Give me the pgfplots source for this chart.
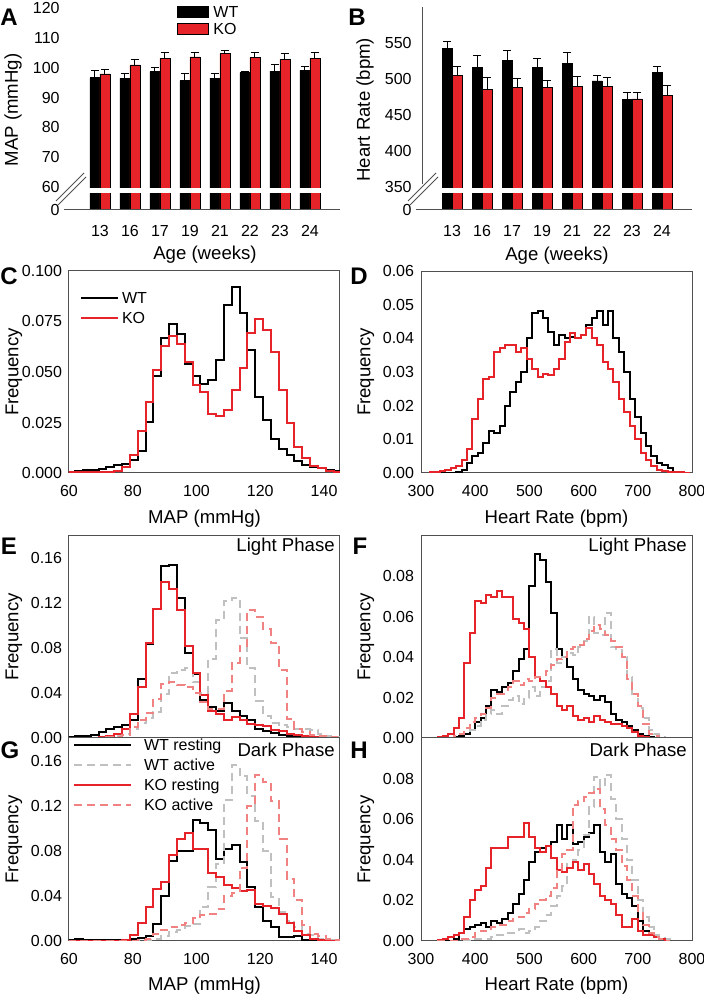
\documentclass[border=0pt]{standalone}
\usepackage{fontspec}
\setmainfont{Liberation Sans}
\usepackage{pgfplots}
\usepackage{pgfplotstable}
\pgfplotsset{compat=1.18}
\definecolor{kored}{RGB}{230,35,40}
\definecolor{kopink}{RGB}{240,130,130}
\definecolor{wtgray}{RGB}{192,192,192}
\definecolor{frame}{RGB}{80,80,80}
\newcommand{\tickfont}{\fontsize{8}{9}\selectfont}
\newcommand{\labfont}{\fontsize{9.3}{11}\selectfont}
\newcommand{\letfont}{\fontsize{12}{14}\selectfont\bfseries}

\pgfplotstableread{
c WT WTe KO KOe
0 96.7 2.3 97.9 1.5
1 96.5 1.5 100.9 1.7
2 98.7 1.5 103.1 1.9
3 95.6 2.3 103.6 1.4
4 96.5 1.7 104.7 1.1
5 98.3 0.5 103.5 1.5
6 98.8 2.3 102.8 1.8
7 99.1 1.2 103.1 2.1
}\tabA
\pgfplotstableread{
c WT WTe KO KOe
0 542.6 10.2 504.7 13.3
1 515.6 16.7 485.8 15.8
2 525.3 14.5 487.7 13.0
3 515.6 13.4 487.7 10.7
4 521.2 16.2 489.5 14.0
5 497.4 7.5 490.0 12.0
6 471.4 9.6 472.3 9.2
7 508.6 8.8 477.4 14.0
}\tabB
\pgfplotstableread{
x WT KO
59.43 0.0005 0.0003
61.89 0.001 0.0003
64.34 0.0015 0.0003
66.80 0.0015 0.0003
69.26 0.002 0.0005
71.72 0.003 0.0005
74.17 0.004 0.001
76.63 0.0045 0.003
79.09 0.0066 0.009
81.54 0.0107 0.021
84.00 0.025 0.035
86.46 0.048 0.051
88.91 0.067 0.063
91.37 0.074 0.068
93.83 0.069 0.064
96.29 0.054 0.055
98.74 0.048 0.0435
101.20 0.044 0.040
103.66 0.046 0.029
106.11 0.056 0.028
108.57 0.083 0.031
111.03 0.092 0.041
113.48 0.079 0.052
115.94 0.061 0.0695
118.40 0.0375 0.076
120.86 0.026 0.071
123.31 0.017 0.060
125.77 0.012 0.041
128.23 0.009 0.0246
130.68 0.006 0.013
133.14 0.004 0.0074
135.60 0.003 0.0036
138.05 0.0023 0.0025
140.51 0.0016 0.001
142.97 0.001 0.0005
145.43 0 0
}\tabC
\pgfplotstableread{
x WT KO
315 0 0.0002
325 0 0.0003
335 0 0.0005
345 0 0.001
355 0 0.0015
365 0.0003 0.002
375 0.001 0.004
385 0.003 0.007
395 0.005 0.016
405 0.006 0.022
415 0.009 0.028
425 0.0125 0.0285
435 0.012 0.036
445 0.014 0.037
455 0.020 0.038
465 0.024 0.038
475 0.027 0.036
485 0.030 0.037
495 0.040 0.034
505 0.0475 0.031
515 0.048 0.0285
525 0.046 0.0295
535 0.042 0.029
545 0.038 0.031
555 0.041 0.034
565 0.040 0.039
575 0.0405 0.0415
585 0.040 0.040
595 0.041 0.041
605 0.044 0.043
615 0.046 0.040
625 0.048 0.038
635 0.044 0.033
645 0.048 0.031
655 0.040 0.027
665 0.036 0.022
675 0.030 0.018
685 0.022 0.014
695 0.0165 0.010
705 0.012 0.006
715 0.008 0.004
725 0.005 0.002
735 0.003 0.001
745 0.0025 0.0005
755 0.0015 0.0003
765 0.0003 0.0002
775 0 0.0002
785 0 0.0001
795 0 0
}\tabD
\pgfplotstableread{
x WR WA KR KA
59.43 0.0005 0 0 0
61.89 0.002 0 0 0
64.34 0.002 0 0 0
66.80 0.003 0 0 0
69.26 0.005 0.0005 0.001 0
71.72 0.008 0.001 0.002 0.0005
74.17 0.010 0.002 0.004 0.001
76.63 0.012 0.004 0.008 0.003
79.09 0.016 0.008 0.021 0.010
81.54 0.053 0.013 0.045 0.016
84.00 0.084 0.018 0.085 0.022
86.46 0.115 0.023 0.115 0.035
88.91 0.153 0.039 0.139 0.048
91.37 0.154 0.058 0.133 0.050
93.83 0.125 0.061 0.114 0.047
96.29 0.076 0.062 0.082 0.045
98.74 0.057 0.050 0.058 0.040
101.20 0.034 0.040 0.0385 0.032
103.66 0.028 0.070 0.0245 0.026
106.11 0.024 0.105 0.0215 0.026
108.57 0.031 0.122 0.016 0.042
111.03 0.024 0.125 0.0186 0.067
113.48 0.020 0.089 0.016 0.082
115.94 0.016 0.062 0.0127 0.114
118.40 0.008 0.033 0.012 0.108
120.86 0.006 0.020 0.0104 0.097
123.31 0.0044 0.013 0.0068 0.085
125.77 0.003 0.012 0.006 0.061
128.23 0.002 0.010 0.004 0.017
130.68 0.0018 0.008 0.0024 0.008
133.14 0.0015 0.008 0.0015 0.005
135.60 0.001 0.0075 0.001 0.003
138.05 0.0005 0.004 0.0005 0.002
140.51 0.0005 0.002 0.0003 0.001
142.97 0 0.001 0 0.0005
145.43 0 0 0 0
}\tabE
\pgfplotstableread{
x WR WA KR KA
330 0 0 0.0005 0
340 0 0 0.001 0
350 0 0 0.002 0
360 0.0005 0.001 0.005 0.001
370 0.001 0.002 0.010 0.002
380 0.002 0.003 0.037 0.005
390 0.004 0.004 0.052 0.008
400 0.008 0.006 0.068 0.010
410 0.010 0.009 0.067 0.012
420 0.016 0.012 0.071 0.015
430 0.024 0.014 0.070 0.020
440 0.023 0.012 0.073 0.022
450 0.025 0.016 0.070 0.022
460 0.027 0.019 0.070 0.025
470 0.033 0.021 0.059 0.028
480 0.039 0.017 0.057 0.026
490 0.044 0.020 0.054 0.029
500 0.075 0.025 0.040 0.028
510 0.091 0.021 0.030 0.030
520 0.088 0.025 0.028 0.031
530 0.077 0.028 0.025 0.033
540 0.062 0.044 0.022 0.036
550 0.044 0.037 0.016 0.039
560 0.040 0.040 0.014 0.040
570 0.035 0.042 0.016 0.044
580 0.029 0.041 0.011 0.045
590 0.024 0.045 0.009 0.046
600 0.022 0.048 0.010 0.049
610 0.021 0.060 0.008 0.053
620 0.019 0.052 0.011 0.056
630 0.021 0.051 0.009 0.054
640 0.018 0.062 0.008 0.051
650 0.012 0.045 0.007 0.048
660 0.009 0.044 0.007 0.045
670 0.008 0.040 0.006 0.040
680 0.006 0.030 0.005 0.029
690 0.004 0.022 0.003 0.022
700 0.002 0.015 0.001 0.016
710 0.001 0.010 0.0005 0.007
720 0.0005 0.004 0 0.002
730 0 0.002 0 0.001
740 0 0.0005 0 0
750 0 0 0 0
}\tabF
\pgfplotstableread{
x WR WA KR KA
59.43 0.001 0 0 0
61.89 0.002 0 0 0
64.34 0.001 0 0 0
66.80 0.0005 0 0 0
69.26 0.0005 0 0 0
71.72 0.001 0 0 0
74.17 0.001 0 0 0
76.63 0.001 0 0.001 0
79.09 0.002 0 0.005 0
81.54 0.003 0.0005 0.016 0.001
84.00 0.004 0.001 0.030 0.002
86.46 0.015 0.002 0.046 0.006
88.91 0.040 0.004 0.052 0.010
91.37 0.071 0.008 0.076 0.012
93.83 0.080 0.010 0.090 0.014
96.29 0.080 0.013 0.096 0.016
98.74 0.107 0.015 0.082 0.020
101.20 0.105 0.030 0.082 0.023
103.66 0.098 0.048 0.060 0.024
106.11 0.073 0.068 0.057 0.028
108.57 0.082 0.125 0.050 0.040
111.03 0.085 0.156 0.047 0.043
113.48 0.070 0.146 0.044 0.065
115.94 0.048 0.129 0.045 0.120
118.40 0.030 0.106 0.033 0.147
120.86 0.018 0.080 0.031 0.141
123.31 0.012 0.039 0.029 0.124
125.77 0.0035 0.026 0.024 0.090
128.23 0.0035 0.018 0.016 0.055
130.68 0.0045 0.012 0.009 0.036
133.14 0.001 0.006 0.005 0.014
135.60 0.0005 0.005 0.002 0.006
138.05 0 0.002 0.001 0.004
140.51 0 0.001 0 0.002
142.97 0 0 0 0.001
145.43 0 0 0 0
}\tabG
\pgfplotstableread{
x WR WA KR KA
330 0 0 0.0005 0
340 0 0 0.001 0
350 0 0 0.002 0
360 0.001 0 0.003 0
370 0.004 0 0.004 0.001
380 0.006 0.0005 0.012 0.001
390 0.007 0.001 0.020 0.002
400 0.008 0.001 0.025 0.004
410 0.009 0.001 0.027 0.005
420 0.007 0.001 0.036 0.006
430 0.010 0.002 0.046 0.007
440 0.009 0.003 0.046 0.008
450 0.011 0.003 0.046 0.008
460 0.014 0.004 0.051 0.010
470 0.018 0.004 0.051 0.011
480 0.023 0.006 0.051 0.012
490 0.030 0.004 0.058 0.014
500 0.039 0.005 0.051 0.016
510 0.044 0.007 0.046 0.018
520 0.046 0.010 0.044 0.020
530 0.047 0.013 0.047 0.022
540 0.049 0.017 0.041 0.026
550 0.057 0.022 0.035 0.035
560 0.050 0.027 0.034 0.043
570 0.057 0.038 0.036 0.045
580 0.048 0.040 0.039 0.067
590 0.049 0.045 0.035 0.069
600 0.051 0.052 0.038 0.071
610 0.053 0.066 0.033 0.073
620 0.057 0.081 0.028 0.075
630 0.044 0.076 0.022 0.065
640 0.039 0.082 0.020 0.057
650 0.043 0.070 0.018 0.050
660 0.028 0.060 0.013 0.045
670 0.023 0.050 0.007 0.037
680 0.021 0.040 0.007 0.030
690 0.017 0.030 0.011 0.022
700 0.010 0.020 0.005 0.014
710 0.005 0.012 0.003 0.008
720 0.004 0.007 0.003 0.004
730 0.003 0.003 0.002 0.002
740 0.001 0.002 0.001 0.001
750 0 0.001 0 0
760 0 0 0 0
}\tabH

\pgfplotsset{
  base/.style={scale only axis, anchor=south west,
    scaled y ticks=false, scaled x ticks=false,
    tick style={draw=none}, major tick length=0pt,
    tick label style={font=\tickfont}, label style={font=\labfont},
    yticklabel style={anchor=east, inner sep=0pt},
    xticklabel style={anchor=center, inner sep=0pt},
  },
  hist/.style={base, width=135.5pt,
    axis line style={draw=frame, line width=0.5pt},
    yticklabel style={xshift=-3.3pt},
    xticklabel style={yshift=-9pt},
    ylabel style={at={(axis description cs:-0.203,0.5)}, anchor=center},
    ylabel={Frequency},
  },
  mapx/.style={xmin=60, xmax=145, xtick={60,80,100,120,140}, xticklabels={60,80,100,120,140}},
  hrx/.style={xmin=300, xmax=800, xtick={300,400,500,600,700,800}, xticklabels={300,400,500,600,700,800}},
  bars/.style={base, width=135pt, height=101pt, xmin=-1, xmax=8,
    axis line style={draw=none},
    ybar=0pt, bar width=5pt,
    xtick={0,...,7}, xticklabels={13,16,17,19,21,22,23,24},
    xticklabel style={yshift=-10.5pt},
    yticklabel style={xshift=-5pt},
    ylabel style={at={(axis description cs:-0.211,0.495)}, anchor=center},
    xlabel={Age (weeks)},
    xlabel style={at={(axis description cs:0.5,-0.223)}, anchor=center},
  },
  barplot/.style={draw=black, line width=0.4pt,
    error bars/y dir=plus, error bars/y explicit,
    error bars/error bar style={line width=0.5pt, black},
    error bars/error mark options={rotate=90, mark size=2pt, line width=0.5pt, black}},
  wr/.style={black, line width=1pt, const plot mark left, no marks},
  kr/.style={kored, line width=1pt, const plot mark left, no marks},
  wa/.style={wtgray, line width=1pt, dash pattern=on 4pt off 2.5pt, const plot mark left, no marks},
  ka/.style={kopink, line width=1pt, dash pattern=on 4pt off 2.5pt, const plot mark left, no marks},
}

\begin{document}
\begin{tikzpicture}
\path[use as bounding box] (0pt,0pt) rectangle (352pt,500pt);

% ---------- A ----------
\begin{axis}[bars, at={(35pt,395pt)}, ymin=52.3, ymax=120,
  ytick={52.3,60,70,80,90,100,110,120}, yticklabels={0,60,70,80,90,100,110,120},
  ylabel={MAP (mmHg)},
  legend style={at={(axis description cs:0.396,1.012)}, anchor=north west, draw=none, fill=none,
    inner sep=0pt, outer sep=0pt, row sep=2.65pt, column sep=2.35pt, font=\tickfont,
    nodes={inner sep=0pt, text height=5.7pt, text depth=0pt}},
  legend cell align=left,
  legend image code/.code={\draw[#1] (0pt,-2.75pt) rectangle (15.5pt,2.75pt);},
]
\addplot[fill=black, barplot] table[x=c, y=WT, y error=WTe]{\tabA};
\addplot[fill=kored, barplot] table[x=c, y=KO, y error=KOe]{\tabA};
\fill[white] (axis cs:-1,58.1) rectangle (axis cs:8,59.8);
\legend{WT,KO}
\end{axis}

% ---------- B ----------
\begin{axis}[bars, at={(211pt,395pt)}, height=101.35pt, ymin=317.5, ymax=600,
  ytick={317.5,350,400,450,500,550}, yticklabels={0,350,400,450,500,550},
  ylabel={Heart Rate (bpm)},
]
\addplot[fill=black, barplot] table[x=c, y=WT, y error=WTe]{\tabB};
\addplot[fill=kored, barplot] table[x=c, y=KO, y error=KOe]{\tabB};
\fill[white] (axis cs:-1,341.6) rectangle (axis cs:8,348.6);
\end{axis}

% broken axis decorations
\draw[frame, line width=0.5pt] (32pt,395pt) -- (170pt,395pt);
\draw[frame, line width=0.5pt] (28pt,399.5pt) -- (42pt,413.5pt);
\draw[frame, line width=0.5pt] (29pt,397.5pt) -- (43pt,411.5pt);
\draw[frame, line width=0.5pt] (208pt,395pt) -- (346pt,395pt);
\draw[frame, line width=0.5pt] (211pt,496.35pt) -- (211pt,408pt);
\draw[frame, line width=0.5pt] (204pt,399.5pt) -- (218pt,413.5pt);
\draw[frame, line width=0.5pt] (205pt,397.5pt) -- (219pt,411.5pt);

% ---------- C ----------
\begin{axis}[hist, mapx, at={(34.5pt,263.5pt)}, height=101pt,
  ymin=0, ymax=0.1, ytick={0,0.025,0.05,0.075,0.1},
  yticklabels={0.000,0.025,0.050,0.075,0.100},
  xlabel={MAP (mmHg)}, xlabel style={at={(axis description cs:0.5,-0.228)}, anchor=center},
  legend style={at={(axis description cs:0.0406,0.8946)}, anchor=north west, draw=none, fill=none,
    inner sep=0pt, outer sep=0pt, row sep=4.3pt, column sep=1.5pt, font=\tickfont,
    nodes={inner sep=0pt, text height=5.7pt, text depth=0pt}},
  legend cell align=left,
  legend image code/.code={\draw[#1] (0pt,0pt) -- (18.5pt,0pt);},
]
\addplot[wr] table[x=x, y=WT]{\tabC};
\addplot[kr] table[x=x, y=KO]{\tabC};
\legend{WT,KO}
\end{axis}

% ---------- D ----------
\begin{axis}[hist, hrx, at={(210.5pt,263.5pt)}, height=101pt,
  ymin=0, ymax=0.06, ytick={0,0.01,0.02,0.03,0.04,0.05,0.06},
  yticklabels={0.00,0.01,0.02,0.03,0.04,0.05,0.06},
  xlabel={Heart Rate (bpm)}, xlabel style={at={(axis description cs:0.5,-0.228)}, anchor=center},
]
\addplot[wr] table[x=x, y=WT]{\tabD};
\addplot[kr] table[x=x, y=KO]{\tabD};
\end{axis}

% ---------- E ----------
\begin{axis}[hist, mapx, xtick=\empty, at={(34.5pt,131pt)}, height=101pt,
  ymin=0, ymax=0.18, ytick={0,0.04,0.08,0.12,0.16},
  yticklabels={0.00,0.04,0.08,0.12,0.16},
]
\addplot[wr] table[x=x, y=WR]{\tabE};
\addplot[wa] table[x=x, y=WA]{\tabE};
\addplot[kr] table[x=x, y=KR]{\tabE};
\addplot[ka] table[x=x, y=KA]{\tabE};
\node[anchor=east, font=\labfont, inner sep=0pt] at (axis description cs:0.982,0.946) {Light Phase};
\end{axis}

% ---------- F ----------
\begin{axis}[hist, hrx, xtick=\empty, at={(210.5pt,131pt)}, height=101pt,
  ymin=0, ymax=0.1, ytick={0,0.02,0.04,0.06,0.08},
  yticklabels={0.00,0.02,0.04,0.06,0.08},
]
\addplot[wr] table[x=x, y=WR]{\tabF};
\addplot[wa] table[x=x, y=WA]{\tabF};
\addplot[kr] table[x=x, y=KR]{\tabF};
\addplot[ka] table[x=x, y=KA]{\tabF};
\node[anchor=east, font=\labfont, inner sep=0pt] at (axis description cs:0.982,0.946) {Light Phase};
\end{axis}

% ---------- G ----------
\begin{axis}[hist, mapx, at={(34.5pt,29.5pt)}, height=101.5pt,
  ymin=0, ymax=0.18, ytick={0,0.04,0.08,0.12,0.16},
  yticklabels={0.00,0.04,0.08,0.12,0.16},
  xlabel={MAP (mmHg)}, xlabel style={at={(axis description cs:0.5,-0.222)}, anchor=center},
  legend style={at={(axis description cs:0.0148,0.9936)}, anchor=north west, draw=none, fill=none,
    inner sep=0pt, outer sep=0pt, row sep=4.3pt, column sep=6pt, font=\tickfont,
    nodes={inner sep=0pt, text height=5.7pt, text depth=0pt}},
  legend cell align=left,
  legend image code/.code={\draw[#1] (0pt,0pt) -- (28.5pt,0pt);},
]
\addplot[wr] table[x=x, y=WR]{\tabG};
\addplot[wa] table[x=x, y=WA]{\tabG};
\addplot[kr] table[x=x, y=KR]{\tabG};
\addplot[ka] table[x=x, y=KA]{\tabG};
\legend{WT resting,WT active,KO resting,KO active}
\node[anchor=east, font=\labfont, inner sep=0pt] at (axis description cs:0.982,0.941) {Dark Phase};
\end{axis}

% ---------- H ----------
\begin{axis}[hist, hrx, at={(210.5pt,29.5pt)}, height=101.5pt,
  ymin=0, ymax=0.1, ytick={0,0.02,0.04,0.06,0.08},
  yticklabels={0.00,0.02,0.04,0.06,0.08},
  xlabel={Heart Rate (bpm)}, xlabel style={at={(axis description cs:0.5,-0.222)}, anchor=center},
]
\addplot[wr] table[x=x, y=WR]{\tabH};
\addplot[wa] table[x=x, y=WA]{\tabH};
\addplot[kr] table[x=x, y=KR]{\tabH};
\addplot[ka] table[x=x, y=KA]{\tabH};
\node[anchor=east, font=\labfont, inner sep=0pt] at (axis description cs:0.982,0.941) {Dark Phase};
\end{axis}

% panel letters
\node[font=\letfont] at (4.5pt,491.5pt) {A};
\node[font=\letfont] at (178.5pt,491.5pt) {B};
\node[font=\letfont] at (4.5pt,362pt) {C};
\node[font=\letfont] at (179.5pt,362pt) {D};
\node[font=\letfont] at (4.5pt,227pt) {E};
\node[font=\letfont] at (180pt,227pt) {F};
\node[font=\letfont] at (5pt,125pt) {G};
\node[font=\letfont] at (179.5pt,125pt) {H};
\end{tikzpicture}
\end{document}
